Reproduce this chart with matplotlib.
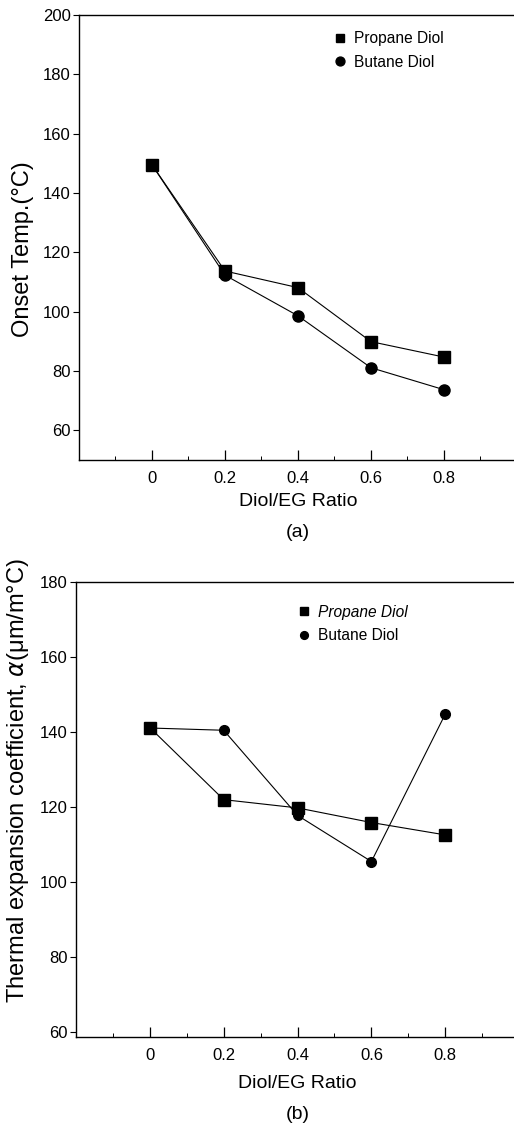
import numpy as np
import matplotlib
matplotlib.use("Agg")
import matplotlib.pyplot as plt
from matplotlib.ticker import MultipleLocator

plt.rcParams['font.family'] = ['Liberation Sans', 'DejaVu Sans']

# Diol/EG ratio
ratio = [0, 0.2, 0.4, 0.6, 0.8]

# (a) onset temperature, deg C
onset_propane = [149.5, 113.7, 108.1, 89.9, 84.7]
onset_butane = [149.5, 112.3, 98.6, 81.1, 73.7]

# (b) thermal expansion coefficient, um/m.C
cte_propane = [141.1, 121.9, 119.7, 115.8, 112.5]
cte_butane = [141.0, 140.4, 117.7, 105.4, 144.7]

x_ticks = [0, 0.2, 0.4, 0.6, 0.8]
x_ticklabels = ['0', '0.2', '0.4', '0.6', '0.8']

fig = plt.figure(figsize=(5.14, 11.25), dpi=100)
ax_a = fig.add_axes([0.1537, 0.5911, 0.852, 0.3956])
ax_b = fig.add_axes([0.1479, 0.0785, 0.862, 0.4044])


def style_axes(ax, ylim, yticks, xlabelpad):
    ax.set_xlim(-0.2, 1.0)
    ax.set_ylim(*ylim)
    ax.set_xticks(x_ticks)
    ax.set_xticklabels(x_ticklabels)
    ax.xaxis.set_minor_locator(MultipleLocator(0.1))
    ax.set_yticks(yticks)
    ax.tick_params(axis='x', which='major', direction='in', length=7, width=0.9,
                   labelsize=12, pad=8)
    ax.tick_params(axis='x', which='minor', direction='in', length=3, width=0.7)
    ax.tick_params(axis='y', direction='out', length=4, width=0.8,
                   labelsize=12, pad=2)
    for s in ax.spines.values():
        s.set_linewidth(1.0)
    ax.set_xlabel('Diol/EG Ratio', fontsize=14, labelpad=xlabelpad)


style_axes(ax_a, (50, 200), [60, 80, 100, 120, 140, 160, 180, 200], 5)
ax_a.plot(ratio, onset_propane, color='black', lw=0.8, marker='s', ms=8,
          label='Propane Diol')
ax_a.plot(ratio, onset_butane, color='black', lw=0.8, marker='o', ms=8,
          label='Butane Diol')
ax_a.set_ylabel('Onset Temp.(\u00b0C)', fontsize=17)
ax_a.yaxis.set_label_coords(-0.103, 0.474)
leg_a = ax_a.legend(loc='upper left', bbox_to_anchor=(0.542, 0.995),
                    frameon=False, fontsize=11.2, handletextpad=0.3,
                    labelspacing=0.55, handlelength=1.2, markerscale=0.8)
for h in leg_a.legend_handles:
    h.set_linestyle('none')
ax_a.text(0.5, -0.163, '(a)', transform=ax_a.transAxes, ha='center',
          va='center', fontsize=14)

style_axes(ax_b, (58.7, 180), [60, 80, 100, 120, 140, 160, 180], 8.6)
ax_b.plot(ratio, cte_propane, color='black', lw=0.8, marker='s', ms=8,
          label='Propane Diol')
ax_b.plot(ratio, cte_butane, color='black', lw=0.8, marker='o', ms=7,
          label='Butane Diol')
ax_b.set_ylabel('Thermal expansion coefficient, $\\alpha$(\u03bcm/m\u00b0C)',
                fontsize=17)
ax_b.yaxis.set_label_coords(-0.102, 0.564)
leg_b = ax_b.legend(loc='upper left', bbox_to_anchor=(0.462, 0.98),
                    frameon=False, fontsize=11.2, handletextpad=0.3,
                    labelspacing=0.55, handlelength=1.2, markerscale=0.8)
for h in leg_b.legend_handles:
    h.set_linestyle('none')
leg_b.get_texts()[0].set_fontstyle('italic')
ax_b.text(0.5, -0.17, '(b)', transform=ax_b.transAxes, ha='center',
          va='center', fontsize=14)

fig.savefig('out.png', dpi=100)
